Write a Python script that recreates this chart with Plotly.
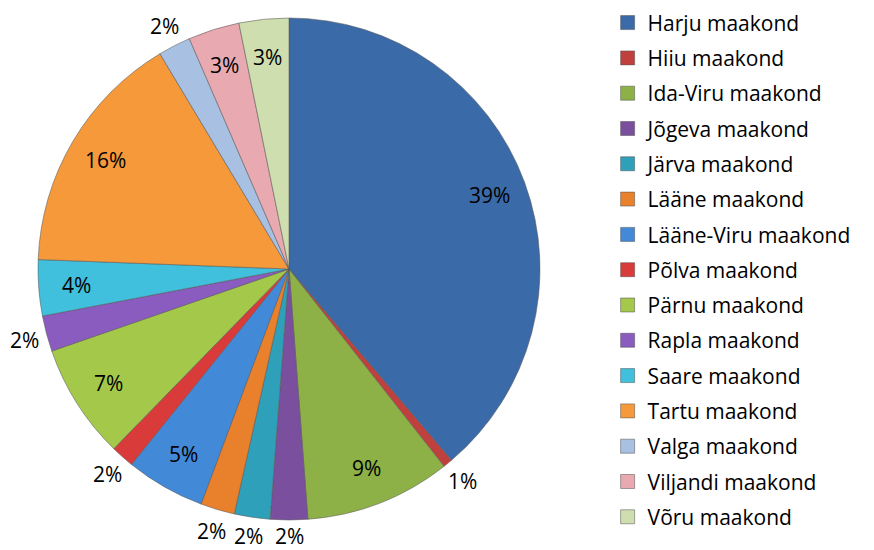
import math
import plotly.graph_objects as go

labels = ["Harju maakond", "Hiiu maakond", "Ida-Viru maakond", "Jõgeva maakond",
          "Järva maakond", "Lääne maakond", "Lääne-Viru maakond", "Põlva maakond",
          "Pärnu maakond", "Rapla maakond", "Saare maakond", "Tartu maakond",
          "Valga maakond", "Viljandi maakond", "Võru maakond"]
values = [38.8, 0.6, 9.4, 2.4, 2.3, 2.2, 5.1, 1.5, 7.4, 2.3, 3.6, 15.8, 2.1, 3.3, 3.2]
colors = ["#3a6aa8", "#c0403d", "#8db146", "#7a4f9e", "#2fa0b9", "#e8802c",
          "#4289d8", "#d93a3a", "#a4c84a", "#8a5cbf", "#40c0dc", "#f5993a",
          "#a8c0e2", "#e8aab0", "#cfdeae"]
label_inside = [True, False, True, False, False, False, True, False, True, False,
                True, True, False, True, True]

FONT = "Open Sans"
W, H = 866, 542          # page body adds an 8px margin around the figure
M_T, M_B = 10, 30
PLOT_H = H - M_T - M_B
DOM_X = [30 / W, 532 / W]

fig = go.Figure()
fig.add_trace(go.Pie(
    labels=labels, values=values, sort=False, direction="clockwise", rotation=0,
    marker=dict(colors=colors, line=dict(color="rgba(90,90,90,0.55)", width=1)),
    textinfo="none", showlegend=False, hoverinfo="label+percent",
    domain=dict(x=DOM_X, y=[0, 1]),
))
for lab, col in zip(labels, colors):
    fig.add_trace(go.Scatter(
        x=[None], y=[None], mode="markers", name=lab, legendgroup=lab,
        marker=dict(symbol="square", size=14, color=col,
                    line=dict(color="rgba(80,80,80,0.5)", width=1)),
    ))

# percentage labels placed at the middle angle of each slice (derived from values)
total = sum(values)
cx = (DOM_X[0] + DOM_X[1]) / 2 * W
cy = M_T + PLOT_H / 2
R = min((DOM_X[1] - DOM_X[0]) * W, PLOT_H) / 2
cum = 0.0
for v, inside in zip(values, label_inside):
    mid = (cum + v / 2) / total * 2 * math.pi
    cum += v
    rr = R * (0.85 if inside else 1.09)
    px = cx + rr * math.sin(mid)
    py = min(cy - rr * math.cos(mid), H - 14)   # keep text inside the figure
    fig.add_annotation(
        x=px / W, y=(M_T + PLOT_H - py) / PLOT_H, xref="paper", yref="paper",
        text=f"{round(v / total * 100)}%", showarrow=False,
        xanchor="center", yanchor="middle",
        font=dict(family=FONT, size=21, color="black"),
    )

fig.update_layout(
    width=W, height=H,
    margin=dict(l=0, r=0, t=M_T, b=M_B, autoexpand=False),
    paper_bgcolor="white", plot_bgcolor="white",
    font=dict(family=FONT, size=21, color="black"),
    xaxis=dict(visible=False), yaxis=dict(visible=False),
    legend=dict(x=0.6924, y=1.031, xanchor="left", yanchor="top",
                font=dict(family=FONT, size=21, color="black"),
                tracegroupgap=5, itemsizing="trace", bgcolor="rgba(0,0,0,0)",
                maxheight=600),
)
fig.write_html("out.html")
